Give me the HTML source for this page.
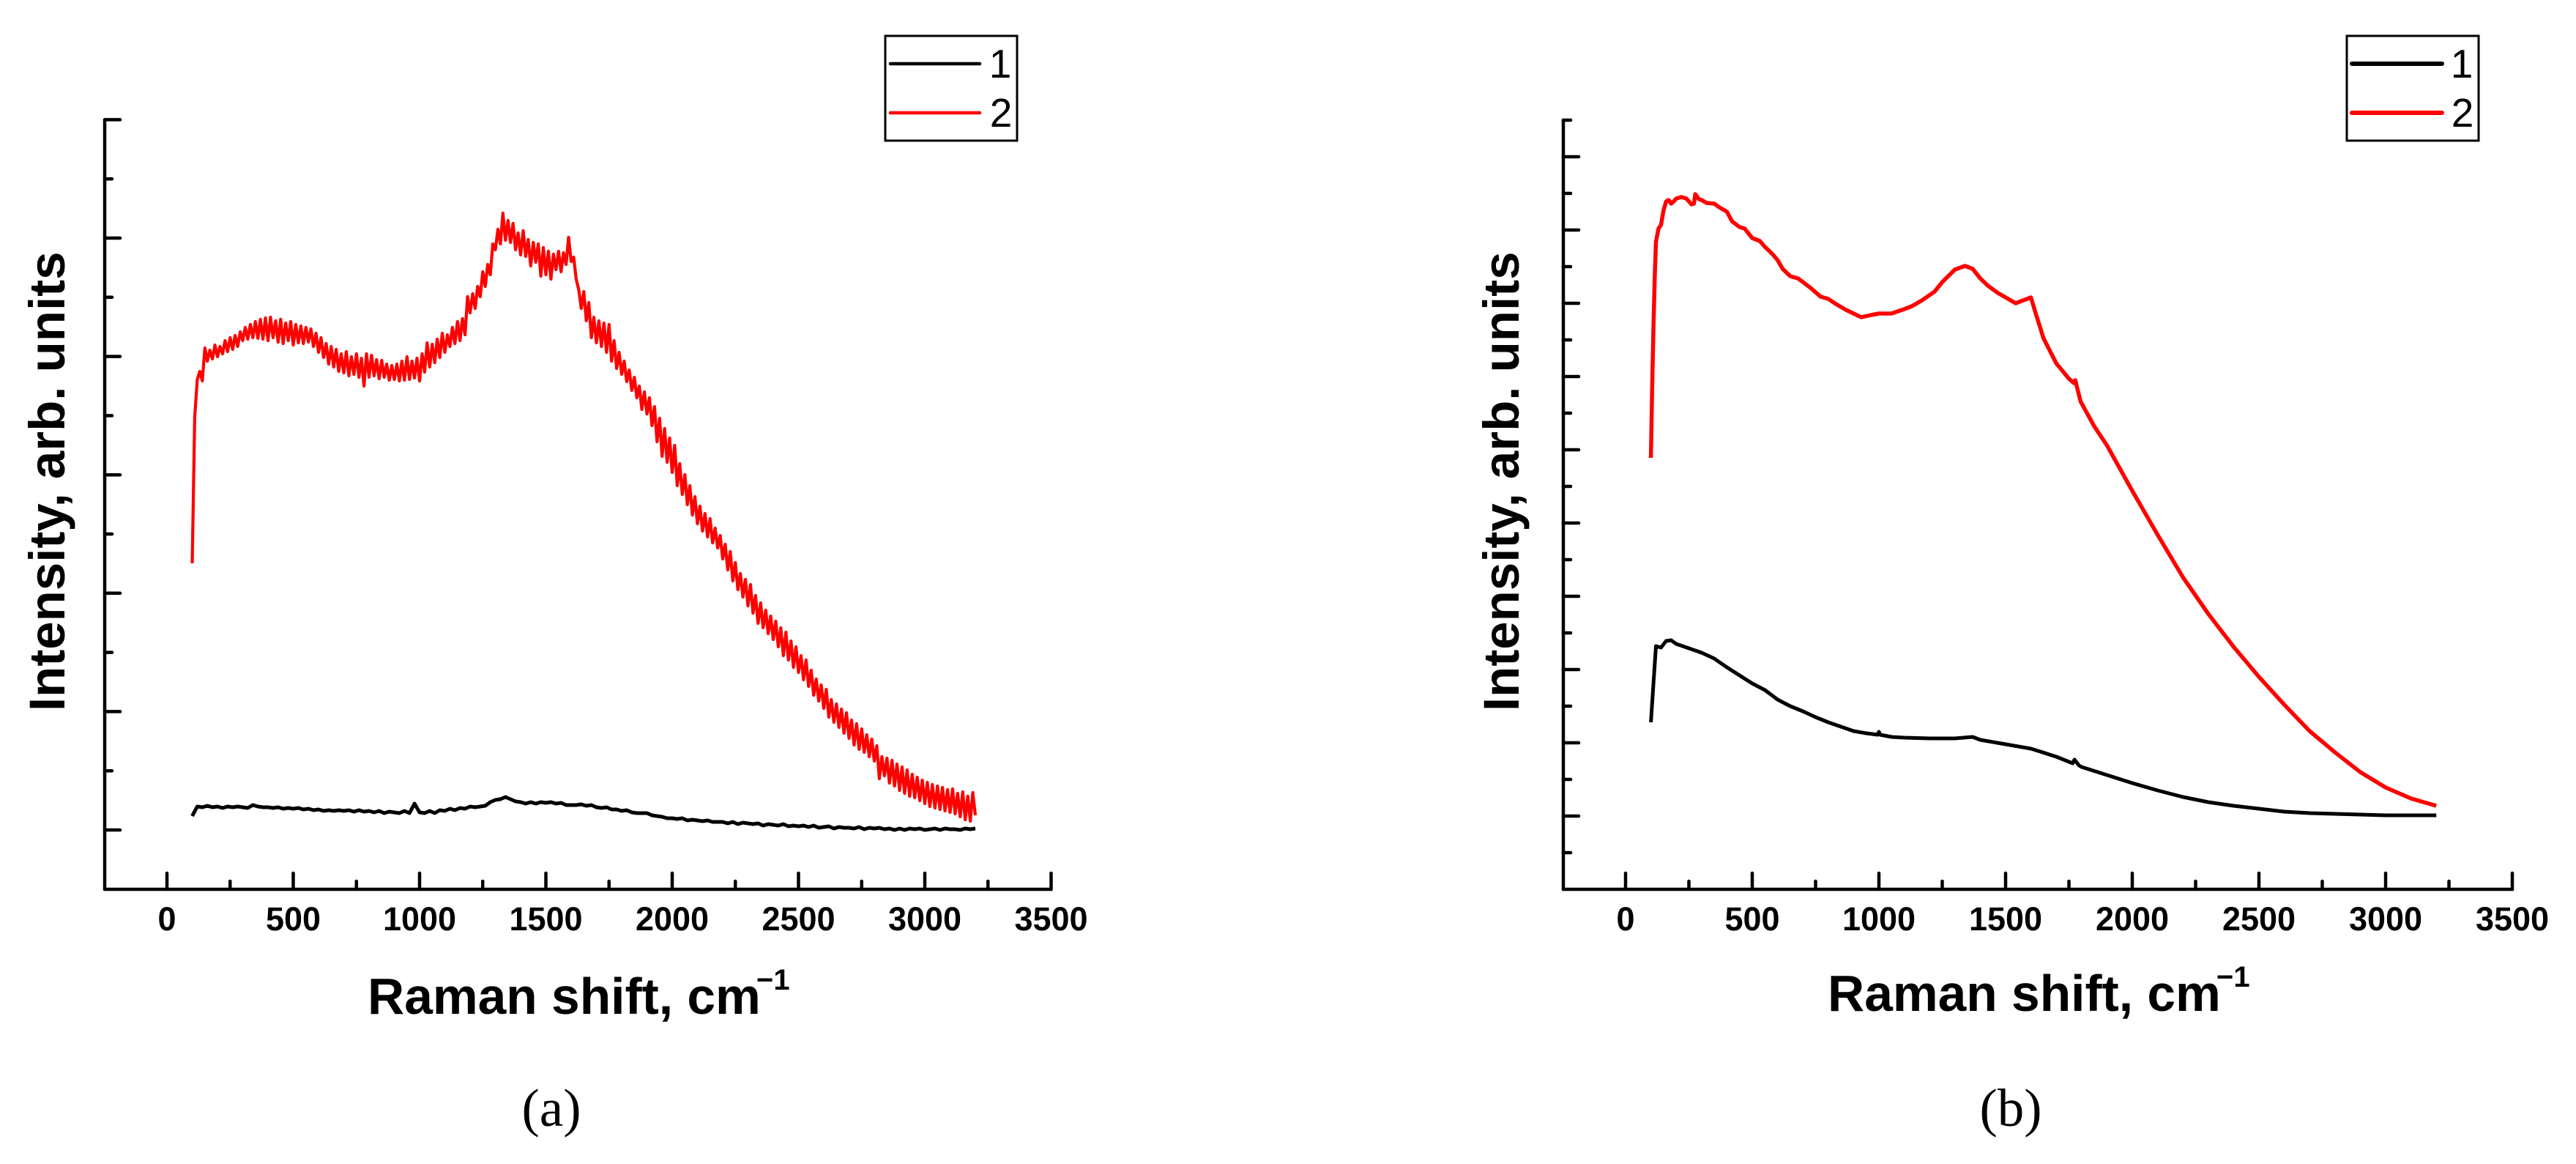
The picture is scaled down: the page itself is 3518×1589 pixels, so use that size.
<!DOCTYPE html>
<html lang="en">
<head>
<meta charset="utf-8">
<title>Raman spectra panels</title>
<style>
html,body{margin:0;padding:0;background:#fff;width:3518px;height:1589px;overflow:hidden}
svg{display:block}
text{font-family:"Liberation Sans",sans-serif;fill:#000}
.title{font-size:69px;font-weight:bold}
.titlex{font-size:69.5px;font-weight:bold}
.sup{font-size:40px;font-weight:bold}
.leg{font-size:55px;text-anchor:middle}
.cap{font-family:"Liberation Serif",serif;font-size:73px;text-anchor:middle}
.tick{font-size:45px;font-weight:bold;text-anchor:middle}
</style>
</head>
<body>
<svg id="fig" xmlns="http://www.w3.org/2000/svg" width="3518" height="1589" viewBox="0 0 3518 1589">
  <rect x="0" y="0" width="3518" height="1589" fill="#fff"/>

  <g id="panelA"></g>
  <g id="panelB"></g>

  <text class="title" transform="translate(88,971) rotate(-90)">Intensity, arb. units</text>
  <text class="titlex" x="502" y="1384">Raman shift, cm</text>
  <text class="sup" x="1033" y="1351">−1</text>
  <text class="cap" x="753" y="1537">(a)</text>

  <text class="title" transform="translate(2074,971) rotate(-90)">Intensity, arb. units</text>
  <text class="titlex" x="2496" y="1380">Raman shift, cm</text>
  <text class="sup" x="3027" y="1347">−1</text>
  <text class="cap" x="2746" y="1537">(b)</text>

  <g>
    <rect x="1209" y="49" width="180" height="143" fill="#fff" stroke="#000" stroke-width="3"/>
    <line x1="1216" y1="87" x2="1338" y2="87" stroke="#000" stroke-width="4.5" stroke-linecap="round"/>
    <text class="leg" x="1366" y="106">1</text>
    <line x1="1216" y1="154" x2="1338" y2="154" stroke="#f00" stroke-width="4.5" stroke-linecap="round"/>
    <text class="leg" x="1367" y="173">2</text>
  </g>
  <g>
    <rect x="3205" y="49" width="180" height="143" fill="#fff" stroke="#000" stroke-width="3"/>
    <line x1="3212" y1="87" x2="3335" y2="87" stroke="#000" stroke-width="6" stroke-linecap="round"/>
    <text class="leg" x="3362" y="106">1</text>
    <line x1="3212" y1="154" x2="3335" y2="154" stroke="#f00" stroke-width="6" stroke-linecap="round"/>
    <text class="leg" x="3363" y="173">2</text>
  </g>
</svg>

<script>
/* shared axis data */
const xMajorLabels = [0, 500, 1000, 1500, 2000, 2500, 3000, 3500];
const xMinorValues = [250, 750, 1250, 1750, 2250, 2750, 3250];

/* panel (a): y ticks in arbitrary intensity units */
const yMajorA = [0, 161.6, 323.2, 484.8, 646.4, 808, 969.6];
const yMinorA = [80.8, 242.4, 404, 565.6, 727.2, 888.8];

/* panel (b): y ticks in arbitrary intensity units */
const yMajorB = [0, 100, 200, 300, 400, 500, 600, 700, 800, 900];
const yMinorB = [-50, 50, 150, 250, 350, 450, 550, 650, 750, 850, 950];

/* panel (a) series 2 (red): sampled from 100 every 10 cm-1 */
const redAStart = 100;
const redAStep = 10;
const redAValues = [
364,563,615,626,613,658,640,655,643,662,646,660,650,668,653,672,656,675,660,680,
668,686,670,690,672,694,671,697,670,699,668,700,672,695,666,697,664,692,668,694,
662,690,665,688,664,686,666,684,660,678,652,672,645,664,636,660,632,656,626,650,
624,653,620,646,622,650,618,644,606,650,618,648,620,642,616,641,618,636,614,634,
615,636,613,640,614,646,615,640,617,644,613,650,625,665,632,663,638,670,645,678,
652,676,660,686,664,694,668,698,676,728,706,732,712,742,728,762,742,772,758,800,
792,820,800,842,805,832,802,828,792,815,785,818,783,806,770,802,775,800,756,795,
758,790,752,786,765,790,762,788,772,809,776,782,752,738,712,735,695,720,672,700,
665,695,660,692,652,690,640,668,630,652,622,640,612,628,600,618,590,606,574,598,
568,590,552,578,530,562,510,548,502,535,488,525,470,500,458,485,444,470,430,455,
418,442,408,432,400,425,392,412,385,402,370,390,355,380,340,365,328,350,318,342,
306,335,296,320,282,310,276,300,268,292,260,285,250,276,238,270,232,258,222,250,
215,238,205,232,196,218,184,206,176,198,166,192,154,178,147,172,140,165,132,160,
125,150,116,145,110,138,106,130,100,124,94,115,70,100,74,98,64,95,60,90,
54,86,50,82,46,76,44,72,40,68,36,65,32,62,30,60,28,58,26,55,
24,56,22,50,18,52,14,46,12,51,20
];

/* panel (a) series 1 (black): sampled from 100 every 20 cm-1 */
const blackAStart = 100;
const blackAStep = 20;
const blackAValues = [
19,32,31,33,31,32,30,32,31,32,31,30,34,32,31,31,30,31,29,30,
29,30,28,29,27,28,26,27,26,27,26,27,25,27,25,26,24,26,23,25,
24,23,26,23,36,24,23,26,23,27,26,29,27,30,29,32,31,32,33,38,
41,42,45,42,39,38,36,38,36,38,37,38,36,37,34,34,34,35,33,34,
31,30,31,28,28,26,27,24,23,23,23,20,19,18,16,16,15,16,13,14,
13,12,13,11,11,11,9,11,8,10,9,8,9,6,8,7,6,8,5,6,
5,6,4,6,3,4,5,2,4,3,3,2,4,1,3,2,3,1,2,0,
2,0,2,1,2,0,1,2,0,2,1,1,0,2,1,2
];

/* panel (b) series 2 (red) */
const redBShift = [100,105,110,115,120,130,140,150,160,170,180,190,200,220,240,250,260,270,275,290,300,320,350,370,400,420,450,470,500,530,550,580,600,620,650,680,700,730,770,800,830,870,900,930,970,1000,1050,1100,1130,1170,1220,1250,1300,1340,1370,1400,1430,1470,1500,1540,1600,1620,1650,1700,1750,1770,1775,1782,1796,1850,1900,2000,2100,2200,2300,2400,2500,2600,2700,2800,2900,3000,3100,3200];
const redBValues = [489,584,667,734,784,802,807,827,839,841,836,839,843,845,843,839,835,836,849,842,841,837,836,831,825,812,804,802,789,785,777,767,759,747,737,734,729,721,709,706,699,691,686,681,684,686,686,692,696,704,716,729,746,751,747,734,724,714,708,700,708,685,652,618,597,591,595,585,566,532,506,444,384,326,276,231,190,152,116,87,60,39,24,14];

/* panel (b) series 1 (black) */
const blackBShift = [100,120,140,160,180,200,250,300,350,400,450,500,550,600,650,700,750,800,850,900,950,995,1000,1005,1050,1100,1200,1300,1370,1400,1500,1600,1700,1765,1772,1790,1800,1900,2000,2100,2200,2300,2400,2500,2600,2700,2800,2900,3000,3100,3200];
const blackBValues = [128,232,230,239,240,235,229,223,215,203,192,181,172,159,150,143,135,128,122,116,113,111,115,111,108,107,106,106,108,104,98,92,81,72,77,69,67,56,45,35,26,19,14,10,6,4,3,2,1,1,1];

const NS = 'http://www.w3.org/2000/svg';

/* axis functions */
function xA(v){ return 228 + 0.345 * v; }
function yA(v){ return 1133 - v; }
function xB(v){ return 2220 + 0.346 * v; }
function yB(v){ return 1114 - v; }

function seg(parent, x1, y1, x2, y2, w){
  const el = document.createElementNS(NS, 'line');
  el.setAttribute('x1', x1);
  el.setAttribute('y1', y1);
  el.setAttribute('x2', x2);
  el.setAttribute('y2', y2);
  el.setAttribute('stroke', '#000');
  el.setAttribute('stroke-width', w);
  el.setAttribute('stroke-linecap', 'round');
  parent.appendChild(el);
  return el;
}

function curve(parent, xs, ys, xf, yf, color, w){
  const el = document.createElementNS(NS, 'polyline');
  const pts = [];
  for (let i = 0; i < ys.length; i++) {
    pts.push(xf(xs[i]).toFixed(1) + ',' + yf(ys[i]).toFixed(1));
  }
  el.setAttribute('points', pts.join(' '));
  el.setAttribute('fill', 'none');
  el.setAttribute('stroke', color);
  el.setAttribute('stroke-width', w);
  el.setAttribute('stroke-linejoin', 'round');
  el.setAttribute('stroke-linecap', 'butt');
  parent.appendChild(el);
  return el;
}

function grid(start, step, n){
  const out = [];
  for (let i = 0; i < n; i++) { out.push(start + i * step); }
  return out;
}

function drawAxes(parent, xf, yf, axisX, yMaj, yMin){
  const yAxis = seg(parent, axisX, 164, axisX, 1214, 4.5);
  
  
  const xAxis = seg(parent, axisX, 1214, xf(3500), 1214, 4.5);
  
  

  xMajorLabels.forEach(function(v){
    const t = seg(parent, xf(v), 1192, xf(v), 1214, 4.5);
    
    
    const lab = document.createElementNS(NS, 'text');
    lab.setAttribute('class', 'tick');
    lab.setAttribute('x', xf(v));
    lab.setAttribute('y', 1270);
    lab.textContent = String(v);
    
    
    parent.appendChild(lab);
  });
  xMinorValues.forEach(function(v){
    const t = seg(parent, xf(v), 1203, xf(v), 1214, 4.5);
    
    
  });
  yMaj.forEach(function(v){
    const t = seg(parent, axisX, yf(v), axisX + 21, yf(v), 4.5);
    
    
  });
  yMin.forEach(function(v){
    const t = seg(parent, axisX, yf(v), axisX + 10, yf(v), 4.5);
    
    
  });
}

const panelA = document.getElementById('panelA');
const panelB = document.getElementById('panelB');

drawAxes(panelA, xA, yA, 143, yMajorA, yMinorA);
drawAxes(panelB, xB, yB, 2135, yMajorB, yMinorB);

const lineA1 = curve(panelA, grid(blackAStart, blackAStep, blackAValues.length), blackAValues, xA, yA, '#000', 5);



const lineA2 = curve(panelA, grid(redAStart, redAStep, redAValues.length), redAValues, xA, yA, '#f00', 4.2);



const lineB1 = curve(panelB, blackBShift, blackBValues, xB, yB, '#000', 5);



const lineB2 = curve(panelB, redBShift, redBValues, xB, yB, '#f00', 5.5);


</script>
</body>
</html>
